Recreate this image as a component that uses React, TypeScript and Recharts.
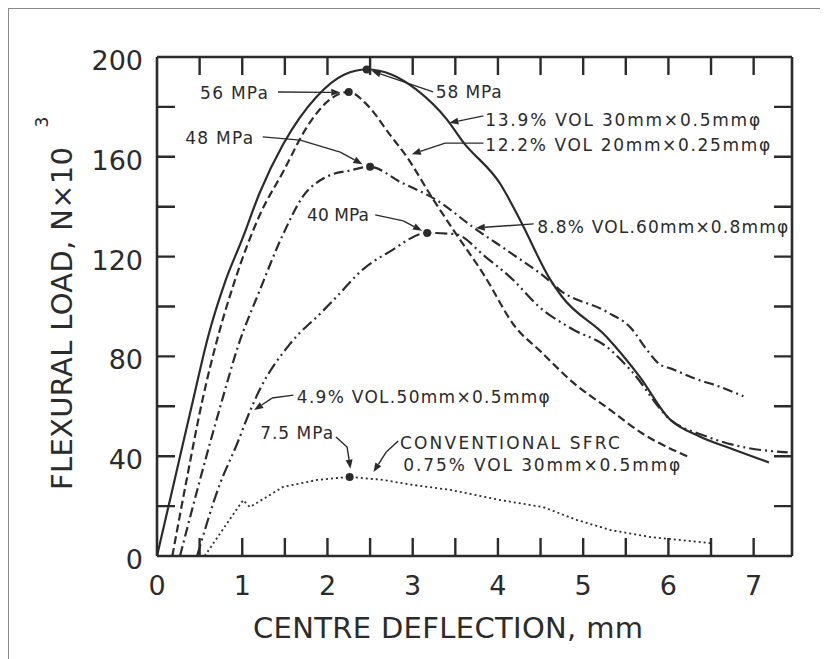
import { LineChart, Line, XAxis, YAxis, ReferenceDot, ReferenceLine } from "recharts";

// load / deflection curves for the fibre-reinforced beams
// x = centre deflection (mm), y = flexural load (N x 10^3)
const vol139X = [0, 0.21, 0.42, 0.6, 0.8, 1.0, 1.21, 1.48, 1.87, 2.2, 2.46, 2.75, 3.04, 3.4, 3.59, 4.03, 4.27, 4.61, 4.75, 5.27, 5.66, 6.01, 6.36, 6.74, 7.18];
const vol139Y = [0, 31, 62, 88, 110, 127, 146, 165, 184, 193, 195, 193, 187, 175, 166, 149, 134, 111, 104, 88, 72, 55, 48, 43, 37.5];

const vol122X = [0.18, 0.35, 0.53, 0.7, 0.9, 1.21, 1.48, 1.76, 2.03, 2.25, 2.46, 2.73, 2.93, 3.23, 3.51, 3.83, 4.2, 4.5, 4.9, 5.3, 5.7, 6.22];
const vol122Y = [0, 31, 62, 86, 109, 137, 154, 172, 183, 186, 181, 169, 160, 143.5, 129, 113, 92, 82, 69, 59, 49, 40];

const vol88X = [0.27, 0.5, 0.76, 0.95, 1.2, 1.48, 1.71, 1.99, 2.26, 2.5, 2.85, 3.31, 3.7, 4.17, 4.58, 4.73, 5.27, 5.57, 5.74, 5.89, 6.04, 6.32, 6.59, 6.88];
const vol88Y = [0, 30, 62, 84, 106, 129, 144, 152, 154.5, 156, 150, 142, 132, 121, 111, 106.5, 98, 91, 83, 77, 75, 71, 68, 64];

const vol49X = [0.47, 0.74, 0.94, 1.09, 1.21, 1.56, 1.94, 2.11, 2.42, 2.73, 3.17, 3.5, 3.85, 4.18, 4.48, 4.87, 5.27, 5.57, 6.01, 6.44, 6.83, 7.4];
const vol49Y = [0, 29, 45, 58, 67, 85, 98, 104, 115, 122, 129.5, 129, 120, 110.6, 100, 91, 84, 74, 55, 48, 44, 41.5];

const sfrcX = [0.56, 0.8, 1.01, 1.09, 1.48, 1.88, 2.26, 2.65, 3.0, 3.44, 4.03, 4.53, 4.93, 5.32, 5.79, 6.49];
const sfrcY = [0, 12, 22.4, 19.6, 27.7, 30.5, 31.7, 30.5, 28.5, 26.5, 22.4, 19.6, 14.4, 10.4, 7.6, 5.2];

// axis ticks: marks every 0.5 mm / 20 kN, numbers on whole mm / 40 kN
const xTicks = [0, 0.5, 1, 1.5, 2, 2.5, 3, 3.5, 4, 4.5, 5, 5.5, 6, 6.5, 7];
const yTicks = [0, 20, 40, 60, 80, 100, 120, 140, 160, 180, 200];
const xLabelled = [0, 1, 2, 3, 4, 5, 6, 7];
const yLabelled = [0, 40, 80, 120, 160, 200];

const X_MAX = 7.45;
const Y_MAX = 200;

// plot box inside the svg, set by the axis sizes below
const BOX = { left: 149, top: 49, right: 784, bottom: 548 };

const INK = "#2b2b2b";
const FONT = "'DejaVu Sans', sans-serif";
const TICK_LEN = 18;

type Pt = { x: number; y: number };
const toPts = (xs: number[], ys: number[]): Pt[] => xs.map((x, i) => ({ x, y: ys[i] }));
const peakOf = (pts: Pt[]) => pts.reduce((a, b) => (b.y > a.y ? b : a));

const series = [
  { key: "vol139", pts: toPts(vol139X, vol139Y), dash: undefined, width: 2.2, type: "monotone" },
  { key: "vol122", pts: toPts(vol122X, vol122Y), dash: "8 4", width: 2.2, type: "monotone" },
  { key: "vol88", pts: toPts(vol88X, vol88Y), dash: "10 4 2 4", width: 2.2, type: "monotone" },
  { key: "vol49", pts: toPts(vol49X, vol49Y), dash: "12 4 2 4 2 4", width: 2.2, type: "monotone" },
  { key: "sfrc", pts: toPts(sfrcX, sfrcY), dash: "2 3", width: 1.8, type: "linear" },
] as const;

// callout text, anchored at its left end, vertically centred (data units)
const callouts = [
  { text: "56 MPa", x: 0.505, y: 185.6, w: 68 },
  { text: "58 MPa", x: 3.27, y: 186, w: 66 },
  { text: "13.9% VOL 30mm×0.5mmφ", x: 3.85, y: 174.7, w: 275 },
  { text: "12.2% VOL 20mm×0.25mmφ", x: 3.85, y: 164.7, w: 285 },
  { text: "48 MPa", x: 0.33, y: 167.5, w: 68 },
  { text: "40 MPa", x: 1.76, y: 136.7, w: 62 },
  { text: "8.8% VOL.60mm×0.8mmφ", x: 4.46, y: 131.9, w: 251 },
  { text: "4.9% VOL.50mm×0.5mmφ", x: 1.64, y: 63.7, w: 253 },
  { text: "7.5 MPa", x: 1.21, y: 49.3, w: 73 },
  { text: "CONVENTIONAL SFRC", x: 2.85, y: 45.3, w: 220 },
  { text: "0.75% VOL 30mm×0.5mmφ", x: 2.89, y: 36.5, w: 277 },
];

// leader lines from the callouts to the curves; arrowhead on the last point
const leaders: [number, number][][] = [
  [[1.42, 186], [2.15, 185.8]],
  [[3.24, 186], [2.52, 194.4]],
  [[3.83, 176.4], [3.43, 173.6]],
  [[3.83, 165.5], [3.38, 165.5], [2.99, 161]],
  [[1.24, 168], [1.68, 166.7], [2.15, 161.9], [2.41, 157]],
  [[2.56, 136.7], [2.89, 134.3], [3.11, 130.4]],
  [[4.42, 133.1], [3.74, 131.5]],
  [[1.6, 64.5], [1.35, 63.3], [1.14, 58.5]],
  [[2.1, 47.7], [2.23, 43.7], [2.27, 35]],
  [[2.83, 46.1], [2.69, 41.7], [2.54, 33.7]],
];

const segShape = (arrow: boolean) => (p: any) => {
  const { x1, y1, x2, y2 } = p;
  if (!arrow) return <line x1={x1} y1={y1} x2={x2} y2={y2} stroke={INK} strokeWidth={1.4} />;
  const a = Math.atan2(y2 - y1, x2 - x1);
  const L = 9;
  const hw = 3.5;
  const bx = x2 - L * Math.cos(a);
  const by = y2 - L * Math.sin(a);
  const head = `${x2},${y2} ${bx - hw * Math.sin(a)},${by + hw * Math.cos(a)} ${bx + hw * Math.sin(a)},${by - hw * Math.cos(a)}`;
  return (
    <g>
      <line x1={x1} y1={y1} x2={bx} y2={by} stroke={INK} strokeWidth={1.4} />
      <polygon points={head} fill={INK} />
    </g>
  );
};

const BottomTick = (p: any) => {
  const v = Number(p.payload.value);
  if (!xLabelled.includes(v)) return <g />;
  return (
    <text x={p.x} y={p.y} dy={39} textAnchor="middle" fontSize={27} fill={INK} fontFamily={FONT}>
      {v}
    </text>
  );
};

const LeftTick = (p: any) => {
  const v = Number(p.payload.value);
  if (!yLabelled.includes(v)) return <g />;
  return (
    <text x={p.x} y={p.y} dx={-14} dy={13} textAnchor="end" fontSize={27} fill={INK} fontFamily={FONT}>
      {v}
    </text>
  );
};

const NoTick = () => <g />;

// inward tick marks on all four sides of the frame, as one path
const tickPath = (() => {
  const w = BOX.right - BOX.left;
  const h = BOX.bottom - BOX.top;
  const parts: string[] = [];
  xTicks
    .filter((t) => t > 0)
    .forEach((t) => {
      const x = BOX.left + (t / X_MAX) * w;
      parts.push(`M${x},${BOX.bottom}V${BOX.bottom - TICK_LEN}`);
      parts.push(`M${x},${BOX.top}V${BOX.top + TICK_LEN}`);
    });
  yTicks
    .filter((t) => t > 0 && t < Y_MAX)
    .forEach((t) => {
      const y = BOX.bottom - (t / Y_MAX) * h;
      parts.push(`M${BOX.left},${y}H${BOX.left + TICK_LEN}`);
      parts.push(`M${BOX.right},${y}H${BOX.right - TICK_LEN}`);
    });
  return parts.join("");
})();

export default function App() {
  const axisLine = { stroke: INK, strokeWidth: 2.6 };
  return (
    <div
      style={{
        width: 820,
        height: 651,
        boxShadow: "inset 1px 1px 0 #8a8a8a",
        background: "#fff",
        fontFamily: FONT,
      }}
    >
      <LineChart width={820} height={651} margin={{ top: 0, right: 0, bottom: 0, left: 0 }}>
        <XAxis
          type="number"
          dataKey="x"
          domain={[0, X_MAX]}
          ticks={xTicks}
          interval={0}
          height={651 - BOX.bottom}
          tickSize={0}
          tickMargin={0}
          axisLine={axisLine}
          tickLine={false}
          tick={BottomTick}
        />
        <XAxis
          xAxisId="top"
          orientation="top"
          type="number"
          dataKey="x"
          domain={[0, X_MAX]}
          ticks={xTicks}
          interval={0}
          height={BOX.top}
          tickSize={0}
          tickMargin={0}
          axisLine={axisLine}
          tickLine={false}
          tick={NoTick}
        />
        <YAxis
          type="number"
          domain={[0, Y_MAX]}
          ticks={yTicks}
          interval={0}
          width={BOX.left}
          tickSize={0}
          tickMargin={0}
          axisLine={axisLine}
          tickLine={false}
          tick={LeftTick}
        />
        <YAxis
          yAxisId="right"
          orientation="right"
          type="number"
          domain={[0, Y_MAX]}
          ticks={yTicks}
          interval={0}
          width={820 - BOX.right}
          tickSize={0}
          tickMargin={0}
          axisLine={axisLine}
          tickLine={false}
          tick={NoTick}
        />

        <path d={tickPath} stroke={INK} strokeWidth={2.4} fill="none" />

        {series.map((s) => (
          <Line
            key={s.key}
            data={s.pts as Pt[]}
            dataKey="y"
            type={s.type}
            stroke={INK}
            strokeWidth={s.width}
            strokeDasharray={s.dash}
            dot={false}
            activeDot={false}
            isAnimationActive={false}
          />
        ))}

        {/* peak markers sit on each curve's maximum */}
        {series.map((s) => {
          const pk = peakOf(s.pts as Pt[]);
          return <ReferenceDot key={`pk-${s.key}`} x={pk.x} y={pk.y} r={4} fill={INK} stroke="none" />;
        })}

        {leaders.flatMap((pts, i) =>
          pts.slice(1).map((p, j) => (
            <ReferenceLine
              key={`ld-${i}-${j}`}
              segment={[
                { x: pts[j][0], y: pts[j][1] },
                { x: p[0], y: p[1] },
              ]}
              shape={segShape(j === pts.length - 2)}
            />
          ))
        )}

        {callouts.map((c) => (
          <ReferenceDot
            key={c.text}
            x={c.x}
            y={c.y}
            r={1}
            shape={(p: any) => (
              <text
                x={p.cx}
                y={p.cy}
                dy={6}
                fontSize={17}
                fill={INK}
                fontFamily={FONT}
                textLength={c.w}
                lengthAdjust="spacing"
              >
                {c.text}
              </text>
            )}
          />
        ))}

        <text
          x={64}
          y={482}
          transform="rotate(-90 64 482)"
          fontSize={29}
          fill={INK}
          fontFamily={FONT}
          textLength={343}
          lengthAdjust="spacing"
        >
          FLEXURAL LOAD, N×10
        </text>
        <text x={34} y={114} transform="rotate(-90 34 114)" textAnchor="middle" dy={6} fontSize={17} fill={INK} fontFamily={FONT}>
          3
        </text>
        <text
          x={440}
          y={630}
          textAnchor="middle"
          fontSize={29}
          fill={INK}
          fontFamily={FONT}
          textLength={390}
          lengthAdjust="spacing"
        >
          CENTRE DEFLECTION, mm
        </text>
      </LineChart>
    </div>
  );
}
